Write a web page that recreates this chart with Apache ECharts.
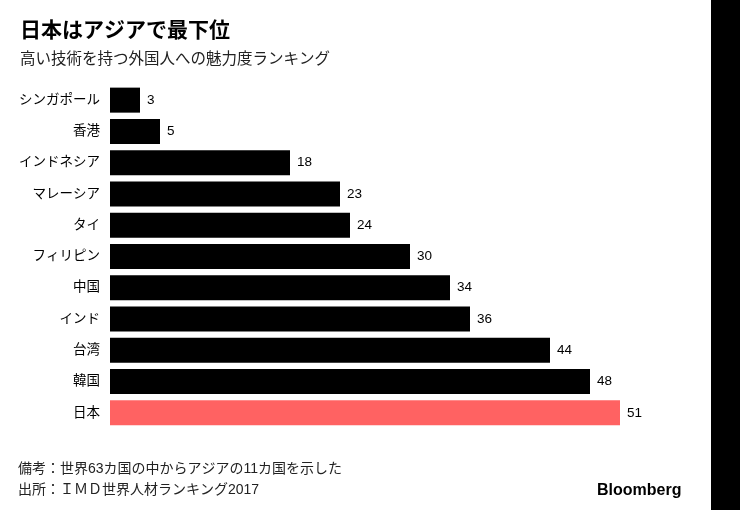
<!DOCTYPE html>
<html><head><meta charset="utf-8">
<script src="https://cdn.jsdelivr.net/npm/echarts@6/dist/echarts.min.js"></script>
<style>html,body{margin:0;padding:0;background:#fff}#c{width:740px;height:510px}</style>
</head><body><div id="c"></div>
<script>
const categories = ['シンガポール','香港','インドネシア','マレーシア','タイ','フィリピン','中国','インド','台湾','韓国','日本'];
const values = [3,5,18,23,24,30,34,36,44,48,51];
const highlight = '日本';
const FONT = '"Liberation Sans", "Noto Sans CJK JP", sans-serif';
const chart = echarts.init(document.getElementById('c'), null, {renderer:'canvas'});
chart.setOption({
  animation:false,
  backgroundColor:'#fff',
  textStyle:{fontFamily:FONT},
  title:[
    {text:'日本はアジアで最下位', left:15, top:16, textStyle:{fontFamily:FONT, fontSize:21, fontWeight:'bold', color:'#000'}},
    {text:'高い技術を持つ外国人への魅力度ランキング', left:15, top:47, textStyle:{fontFamily:FONT, fontSize:15.5, fontWeight:'normal', color:'#222'}}
  ],
  grid:{left:110, right:120, top:84.5, bottom:81.5, containLabel:false},
  xAxis:{type:'value', min:0, max:51, show:false},
  yAxis:{type:'category', data:categories, inverse:true,
    axisLine:{show:false}, axisTick:{show:false},
    axisLabel:{fontFamily:FONT, fontSize:13.5, color:'#000', margin:10}},
  series:[{type:'bar', barCategoryGap:'20%',
    data: values.map((v,i)=>({value:v, itemStyle:{color: categories[i]===highlight ? '#ff6262' : '#000'}})),
    label:{show:true, position:'right', distance:7, fontFamily:FONT, fontSize:13.5, color:'#000'}
  }],
  graphic:[
    {type:'rect', shape:{x:711, y:0, width:29, height:510}, style:{fill:'#000'}},
    {type:'text', left:18, top:462, style:{text:'備考：世界63カ国の中からアジアの11カ国を示した', font:'14px '+FONT, fill:'#222'}},
    {type:'text', left:18, top:483, style:{text:'出所：ＩＭＤ世界人材ランキング2017', font:'14px '+FONT, fill:'#222'}},
    {type:'text', left:597, top:483, style:{text:'Bloomberg', font:'bold 16px "Liberation Sans", Arial, sans-serif', fill:'#000'}}
  ]
});
</script></body></html>
